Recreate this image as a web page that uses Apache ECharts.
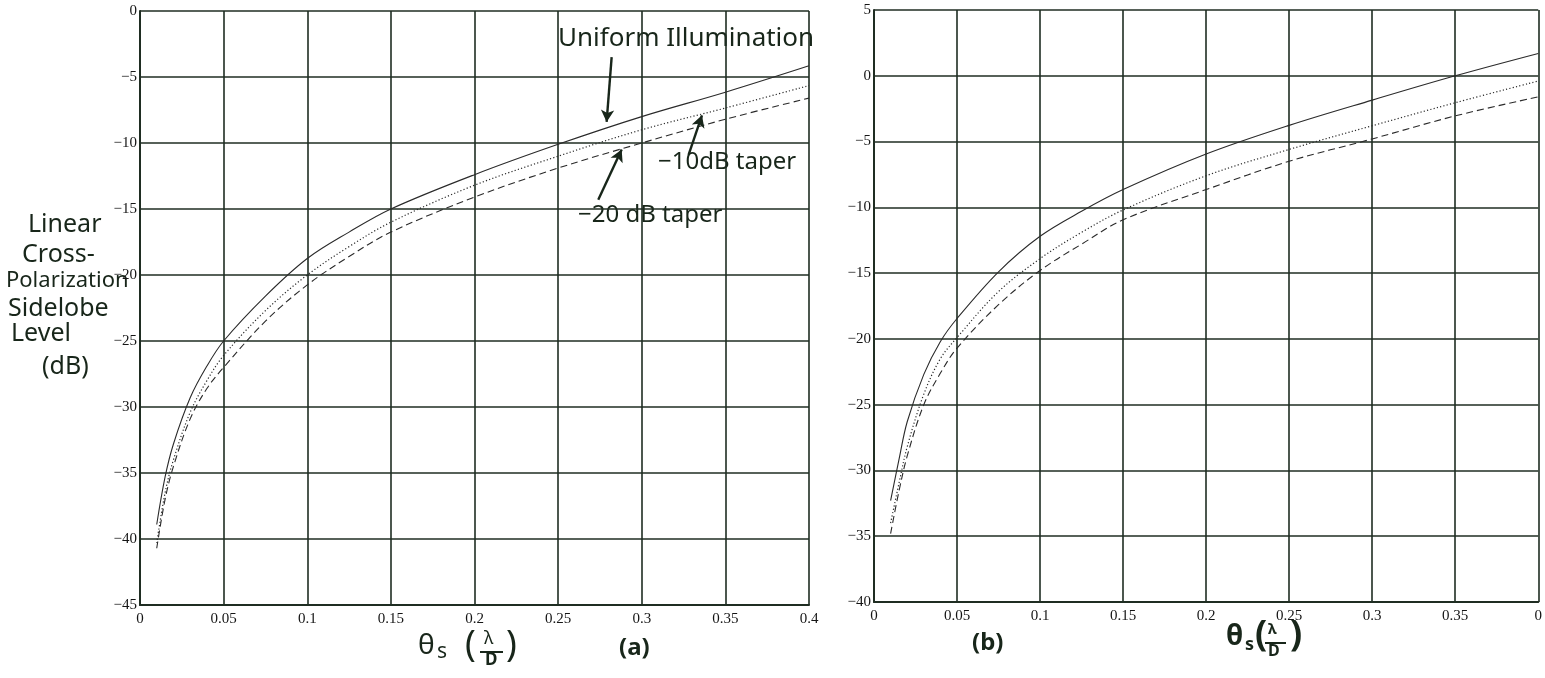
<!DOCTYPE html>
<html>
<head>
<meta charset="utf-8">
<script src="https://cdn.jsdelivr.net/npm/echarts@6/dist/echarts.min.js"></script>
<style>
html,body{margin:0;padding:0;background:#fff;}
#c{width:1545px;height:678px;}
</style>
</head>
<body>
<div id="c"></div>
<script>
// ---- data ----
var thetaS = [0.01,0.015,0.02,0.03,0.04,0.05,0.075,0.1,0.125,0.15,0.2,0.25,0.3,0.35,0.4];
// (a)
var uniformA = [-38.9,-35.3,-32.8,-29.3,-26.9,-25,-21.6,-18.75,-16.75,-15,-12.4,-10.1,-8.0,-6.15,-4.15];
var taper10A = [-40.3,-36.5,-34,-30.4,-28,-26.1,-22.7,-20,-17.85,-16,-13.2,-11.0,-9.0,-7.35,-5.65];
var taper20A = [-40.7,-37,-34.5,-30.9,-28.6,-27,-23.5,-20.75,-18.6,-16.75,-14.1,-11.9,-10.0,-8.2,-6.6];
// (b)
var uniformB = [-32.3,-29.2,-26.3,-22.7,-20.2,-18.45,-14.9,-12.2,-10.3,-8.65,-5.95,-3.77,-1.85,0,1.7];
var taper10B = [-34,-31,-28.2,-24.2,-21.5,-19.9,-16.4,-13.9,-11.9,-10.2,-7.6,-5.6,-3.8,-2.05,-0.4];
var taper20B = [-34.8,-31.6,-28.9,-25,-22.6,-20.7,-17.4,-14.8,-12.8,-10.95,-8.65,-6.5,-4.8,-3.05,-1.6];
// tick labels
var xTicksA = ['0','0.05','0.1','0.15','0.2','0.25','0.3','0.35','0.4'];
var xTicksB = ['0','0.05','0.1','0.15','0.2','0.25','0.3','0.35','0'];

function pairs(xs, ys){ return xs.map(function(x,i){ return [x, ys[i]]; }); }

var gridColor = '#1f2d22';
var curveColor = '#2a2a2a';
var inkColor = '#18261a';
var hand = '"Noto Sans", sans-serif';

function fmtY(v){ return v < 0 ? '\u2212' + Math.abs(v) : String(v); }

function xAxis(idx, ticks){
  return {
    type:'value', gridIndex:idx, min:0, max:0.4, interval:0.05,
    axisLine:{show:true, onZero:false, lineStyle:{color:gridColor, width:2}},
    axisTick:{show:false},
    splitLine:{show:true, lineStyle:{color:gridColor, width:1.6}},
    axisLabel:{margin:7, color:'#151515', fontFamily:'"Liberation Serif", serif', fontSize:15,
      formatter:function(v){ return ticks[Math.round(v/0.05)]; }}
  };
}
function yAxis(idx, mn, mx){
  return {
    type:'value', gridIndex:idx, min:mn, max:mx, interval:5,
    axisLine:{show:true, onZero:false, lineStyle:{color:gridColor, width:2}},
    axisTick:{show:false},
    splitLine:{show:true, lineStyle:{color:gridColor, width:1.6}},
    axisLabel:{margin:3, color:'#151515', fontFamily:'"Liberation Serif", serif', fontSize:15, formatter:fmtY}
  };
}
function line(name, idx, data, type, width){
  return {
    name:name, type:'line', xAxisIndex:idx, yAxisIndex:idx, data:data,
    smooth:0.35, showSymbol:false, symbol:'none', silent:true,
    lineStyle:{color:curveColor, width:width, type:type}
  };
}

var arrowStyle = {color:inkColor, width:2.4, type:'solid'};
function arrow(from, to, curv){
  return [{coord:from, lineStyle:{color:inkColor, width:2.4, curveness:curv}}, {coord:to}];
}

var uniSeries = line('Uniform Illumination', 0, pairs(thetaS, uniformA), 'solid', 1.1);
uniSeries.markLine = {
  silent:true, symbol:['none','arrow'], symbolSize:[10,12],
  label:{show:false}, lineStyle:arrowStyle,
  data:[
    arrow([0.282,-3.5],[0.279,-8.4], 0.25),
    arrow([0.328,-10.9],[0.336,-7.9], 0),
    arrow([0.274,-14.3],[0.288,-10.5], 0)
  ]
};

var option = {
  animation:false,
  backgroundColor:'#ffffff',
  grid:[
    {left:140, top:11, width:669, height:594},
    {left:874, top:10, width:668, height:592}
  ],
  xAxis:[xAxis(0, xTicksA), xAxis(1, xTicksB)],
  yAxis:[yAxis(0, -45, 0), yAxis(1, -40, 5)],
  series:[
    uniSeries,
    line('-10 dB taper', 0, pairs(thetaS, taper10A), [1.2,2.2], 1.2),
    line('-20 dB taper', 0, pairs(thetaS, taper20A), [7,4], 1.1),
    line('Uniform Illumination', 1, pairs(thetaS, uniformB), 'solid', 1.1),
    line('-10 dB taper', 1, pairs(thetaS, taper10B), [1.2,2.2], 1.2),
    line('-20 dB taper', 1, pairs(thetaS, taper20B), [7,4], 1.1)
  ],
  graphic:[
    // y-axis title (handwritten)
    {type:'text', left:28, top:212, style:{text:'Linear', font:'25px '+hand, fill:inkColor}},
    {type:'text', left:22, top:242, style:{text:'Cross-', font:'25px '+hand, fill:inkColor}},
    {type:'text', left:6, top:270, style:{text:'Polarization', font:'22px '+hand, fill:inkColor}},
    {type:'text', left:8, top:296, style:{text:'Sidelobe', font:'25px '+hand, fill:inkColor}},
    {type:'text', left:11, top:321, style:{text:'Level', font:'25px '+hand, fill:inkColor}},
    {type:'text', left:42, top:354, style:{text:'(dB)', font:'25px '+hand, fill:inkColor}},
    // curve annotations
    {type:'text', left:558, top:26, style:{text:'Uniform Illumination', font:'26px '+hand, fill:inkColor}},
    {type:'text', left:658, top:150, style:{text:'\u221210dB taper', font:'24px '+hand, fill:inkColor}},
    {type:'text', left:578, top:203, style:{text:'\u221220 dB taper', font:'24px '+hand, fill:inkColor}},
    // x-axis title (a)
    {type:'text', left:418, top:632, style:{text:'\u03B8', font:'28px '+hand, fill:inkColor}},
    {type:'text', left:437, top:642, style:{text:'s', font:'21px '+hand, fill:inkColor}},
    {type:'text', left:465, top:628, style:{text:'(', font:'36px '+hand, fill:inkColor}},
    {type:'text', left:484, top:630, style:{text:'\u03BB', font:'18px '+hand, fill:inkColor}},
    {type:'line', shape:{x1:480, y1:652, x2:503, y2:652}, style:{stroke:inkColor, lineWidth:2}},
    {type:'text', left:485, top:652, style:{text:'D', font:'bold 17px '+hand, fill:inkColor}},
    {type:'text', left:506, top:628, style:{text:')', font:'36px '+hand, fill:inkColor}},
    {type:'text', left:619, top:636, style:{text:'(a)', font:'bold 24px '+hand, fill:inkColor}},
    // x-axis title (b)
    {type:'text', left:972, top:631, style:{text:'(b)', font:'bold 24px '+hand, fill:inkColor}},
    {type:'text', left:1226, top:623, style:{text:'\u03B8', font:'bold 28px '+hand, fill:inkColor}},
    {type:'text', left:1245, top:636, style:{text:'s', font:'bold 18px '+hand, fill:inkColor}},
    {type:'text', left:1255, top:618, style:{text:'(', font:'bold 36px '+hand, fill:inkColor}},
    {type:'text', left:1268, top:622, style:{text:'\u03BB', font:'bold 15px '+hand, fill:inkColor}},
    {type:'line', shape:{x1:1265, y1:643, x2:1286, y2:643}, style:{stroke:inkColor, lineWidth:2}},
    {type:'text', left:1268, top:643, style:{text:'D', font:'bold 16px '+hand, fill:inkColor}},
    {type:'text', left:1290, top:618, style:{text:')', font:'bold 36px '+hand, fill:inkColor}}
  ]
};

var chart = echarts.init(document.getElementById('c'), null, {renderer:'canvas'});
chart.setOption(option);
</script>
</body>
</html>
